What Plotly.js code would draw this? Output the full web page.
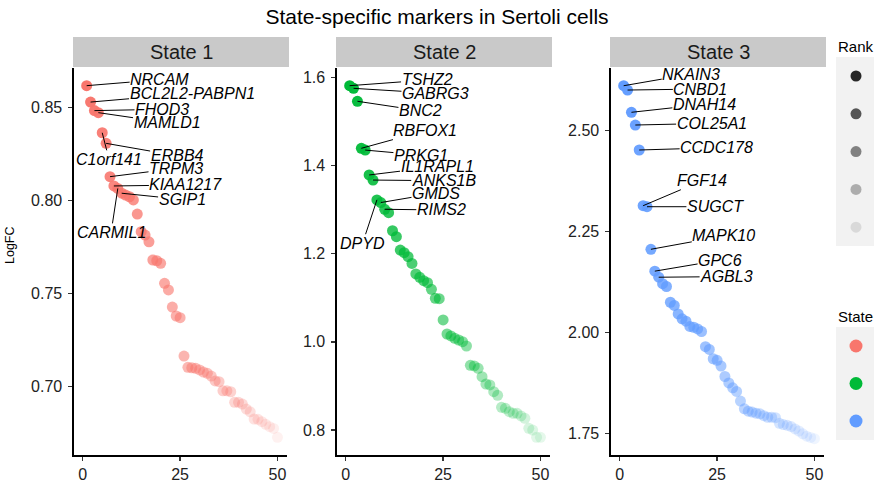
<!DOCTYPE html>
<html>
<head>
<meta charset="utf-8">
<script src="https://cdn.plot.ly/plotly-3.0.1.min.js"></script>
<style>html,body{margin:0;padding:0;background:#fff;}#chart{width:874px;height:490px;}</style>
</head>
<body>
<div id="chart"></div>
<script>
// ---------------- data ----------------
const rank = [1,2,3,4,5,6,7,8,9,10,11,12,13,14,15,16,17,18,19,20,21,22,23,24,25,
              26,27,28,29,30,31,32,33,34,35,36,37,38,39,40,41,42,43,44,45,46,47,48,49,50];
const states = ['State 1', 'State 2', 'State 3'];
const state1LogFC = [0.8616,0.8528,0.8482,0.8471,0.8363,0.8306,0.8127,0.8077,0.8064,0.8038,
                     0.8028,0.8019,0.8002,0.7926,0.7831,0.7813,0.7777,0.7679,0.7675,0.7661,
                     0.7554,0.7518,0.7426,0.7378,0.7369,0.7163,0.7102,0.7100,0.7097,0.7088,
                     0.7077,0.7070,0.7055,0.7029,0.7025,0.6976,0.6976,0.6971,0.6914,0.6914,
                     0.6905,0.6878,0.6863,0.6824,0.6823,0.6810,0.6796,0.6783,0.6774,0.6726];
const state2LogFC = [1.581,1.575,1.5456,1.439,1.435,1.3785,1.367,1.322,1.316,1.3007,
                     1.293,1.252,1.2386,1.2083,1.2023,1.1932,1.178,1.154,1.1465,1.1388,
                     1.1343,1.1193,1.0989,1.098,1.0497,1.0179,1.0134,1.0082,1.0043,1.0005,
                     0.9907,0.9469,0.9454,0.9401,0.9211,0.9045,0.9023,0.8871,0.8789,0.8517,
                     0.8494,0.8417,0.8381,0.838,0.832,0.8267,0.8041,0.800,0.7837,0.7837];
const state3LogFC = [2.6115,2.6008,2.5456,2.5141,2.4522,2.3142,2.3117,2.2062,2.152,2.137,
                     2.121,2.114,2.075,2.067,2.046,2.034,2.028,2.015,2.013,2.009,
                     2.0025,1.965,1.958,1.935,1.931,1.917,1.891,1.875,1.863,1.854,
                     1.830,1.811,1.805,1.803,1.800,1.7985,1.794,1.790,1.790,1.789,
                     1.775,1.772,1.770,1.767,1.761,1.756,1.749,1.743,1.740,1.737];
const state1Genes = ['NRCAM','BCL2L2-PABPN1','FHOD3','MAMLD1','C1orf141','ERBB4','TRPM3','KIAA1217','CARMIL1','SGIP1'];
const state2Genes = ['TSHZ2','GABRG3','BNC2','RBFOX1','PRKG1','IL1RAPL1','ANKS1B','DPYD','GMDS','RIMS2'];
const state3Genes = ['NKAIN3','CNBD1','DNAH14','COL25A1','CCDC178','FGF14','SUGCT','MAPK10','GPC6','AGBL3'];
const xTicks = [0, 25, 50];
const y1Ticks = [0.70, 0.75, 0.80, 0.85];
const y2Ticks = [0.8, 1.0, 1.2, 1.4, 1.6];
const y3Ticks = [1.75, 2.00, 2.25, 2.50];
const rankBreaks = [10, 20, 30, 40, 50];

// ---------------- styling / layout config ----------------
const W = 874, H = 490;
const fx = p => p / W;
const fy = p => 1 - p / H;
const stateColors = [[248,118,109],[0,186,56],[97,156,255]];
const alphaOf = r => 1 - 0.9 * (r - 1) / 49;   // scale_alpha range (0.1, 1), reversed on rank
const panelPx = [[74, 287], [337, 550], [611, 824]];
const plotTop = 68, plotBottom = 455;
const yRanges = [[0.6631, 0.8711], [0.7435, 1.6211], [1.6965, 2.6554]];
const xRange = [-2.25, 52.45];
const labelOffsets = [
  [[73,-6],[101.5,-8.7],[67.6,-1.3],[68.7,10],[6.8,26.6],[71,12.4],[66,-8.3],[72,-1],[-6.7,44],[60.4,6.2]],
  [[77.4,-5.7],[81.9,5],[63,9.4],[64.1,-17.6],[55.7,5],[67.9,-8.3],[70.7,0.7],[-14.3,43.3],[55.2,-9.3],[56.6,0.7]],
  [[67.6,-11.7],[72.8,-1],[72.9,-8],[76.3,-1.7],[77.4,-2.3],[59,-25],[68.4,0],[72.9,-13.3],[65.3,-11],[67.9,-0.6]]
];
const FONT = 'Liberation Sans, Arial, Helvetica, sans-serif';

const series = [state1LogFC, state2LogFC, state3LogFC];
const genes = [state1Genes, state2Genes, state3Genes];
const yTicks = [y1Ticks, y2Ticks, y3Ticks];
const yFormats = ['.2f', '.1f', '.2f'];

const traces = [];
const layout = {
  width: W, height: H, autosize: false,
  margin: {l: 0, r: 0, t: 0, b: 0},
  paper_bgcolor: '#ffffff', plot_bgcolor: '#ffffff',
  showlegend: false,
  font: {family: FONT, color: '#000'},
  title: {text: 'State-specific markers in Sertoli cells', x: 0.5, xanchor: 'center',
          y: fy(17), yanchor: 'middle', yref: 'container',
          font: {family: FONT, size: 21, color: '#000'}},
  shapes: [], annotations: []
};

for (let i = 0; i < 3; i++) {
  const xa = i === 0 ? 'x' : 'x' + (i + 1);
  const ya = i === 0 ? 'y' : 'y' + (i + 1);
  const c = stateColors[i];
  traces.push({
    type: 'scatter', mode: 'markers', x: rank, y: series[i], xaxis: xa, yaxis: ya,
    marker: {size: 11, color: rank.map(r => `rgba(${c[0]},${c[1]},${c[2]},${alphaOf(r).toFixed(3)})`), line: {width: 0}},
    hoverinfo: 'skip', cliponaxis: false
  });
  const axX = {
    domain: [fx(panelPx[i][0]), fx(panelPx[i][1])], range: xRange, anchor: ya,
    showline: true, linecolor: '#000', linewidth: 1.6, showgrid: false, zeroline: false,
    ticks: 'outside', ticklen: 4, tickwidth: 1.4, tickcolor: '#333',
    tickvals: xTicks, ticktext: xTicks.map(String),
    tickfont: {family: FONT, size: 16, color: '#222'}
  };
  const axY = {
    domain: [fy(plotBottom), fy(plotTop)], range: yRanges[i], anchor: xa,
    showline: true, linecolor: '#000', linewidth: 1.6, showgrid: false, zeroline: false,
    ticks: 'outside', ticklen: 4, tickwidth: 1.4, tickcolor: '#333',
    tickvals: yTicks[i], tickformat: yFormats[i], ticklabelstandoff: 3,
    tickfont: {family: FONT, size: 16, color: '#222'}
  };
  layout[i === 0 ? 'xaxis' : 'xaxis' + (i + 1)] = axX;
  layout[i === 0 ? 'yaxis' : 'yaxis' + (i + 1)] = axY;

  // strip
  layout.shapes.push({type: 'rect', xref: 'paper', yref: 'paper',
    x0: fx(panelPx[i][0] - 1), x1: fx(panelPx[i][1] + 2), y0: fy(67), y1: fy(37),
    fillcolor: '#C9C9C9', line: {width: 0}});
  layout.annotations.push({xref: 'paper', yref: 'paper', x: fx((panelPx[i][0] + panelPx[i][1]) / 2 + 0.5), y: fy(52),
    text: states[i], showarrow: false, xanchor: 'center', yanchor: 'middle',
    font: {family: FONT, size: 20, color: '#1a1a1a'}});

  // gene labels
  genes[i].forEach((g, k) => {
    layout.annotations.push({
      xref: xa, yref: ya, x: rank[k], y: series[i][k], text: g,
      showarrow: true, arrowhead: 0, arrowwidth: 1, arrowcolor: '#000',
      ax: labelOffsets[i][k][0], ay: labelOffsets[i][k][1], standoff: 0, startstandoff: 0,
      borderpad: 0,
      font: {family: FONT, size: 16, color: '#000', style: 'italic'}
    });
  });
}

// y-axis title
layout.annotations.push({xref: 'paper', yref: 'paper', x: fx(10), y: fy(245), text: 'LogFC',
  showarrow: false, textangle: -90, xanchor: 'center', yanchor: 'middle',
  font: {family: FONT, size: 12.5, color: '#000'}});

// legend: Rank
layout.annotations.push({xref: 'paper', yref: 'paper', x: fx(836), y: fy(46), text: 'Rank',
  showarrow: false, xanchor: 'left', yanchor: 'middle', font: {family: FONT, size: 15, color: '#000'}});
layout.shapes.push({type: 'rect', xref: 'paper', yref: 'paper', x0: fx(836), x1: fx(880), y0: fy(246), y1: fy(57),
  fillcolor: '#F2F2F2', line: {width: 0}});
rankBreaks.forEach((r, k) => {
  const cy = 76 + k * 37.8;
  layout.shapes.push({type: 'circle', xref: 'paper', yref: 'paper', xsizemode: 'pixel', ysizemode: 'pixel',
    xanchor: fx(856), yanchor: fy(cy), x0: -5.5, x1: 5.5, y0: -5.5, y1: 5.5,
    fillcolor: `rgba(0,0,0,${alphaOf(r).toFixed(3)})`, line: {width: 0}});
});

// legend: State
layout.annotations.push({xref: 'paper', yref: 'paper', x: fx(836), y: fy(316), text: 'State',
  showarrow: false, xanchor: 'left', yanchor: 'middle', font: {family: FONT, size: 15, color: '#000'}});
layout.shapes.push({type: 'rect', xref: 'paper', yref: 'paper', x0: fx(836), x1: fx(880), y0: fy(440), y1: fy(327),
  fillcolor: '#F2F2F2', line: {width: 0}});
states.forEach((s, k) => {
  const cy = 346 + k * 37.5;
  const c = stateColors[k];
  layout.shapes.push({type: 'circle', xref: 'paper', yref: 'paper', xsizemode: 'pixel', ysizemode: 'pixel',
    xanchor: fx(856), yanchor: fy(cy), x0: -6.5, x1: 6.5, y0: -6.5, y1: 6.5,
    fillcolor: `rgb(${c[0]},${c[1]},${c[2]})`, line: {width: 0}});
});

Plotly.newPlot('chart', traces, layout, {staticPlot: true, displayModeBar: false});
</script>
</body>
</html>
